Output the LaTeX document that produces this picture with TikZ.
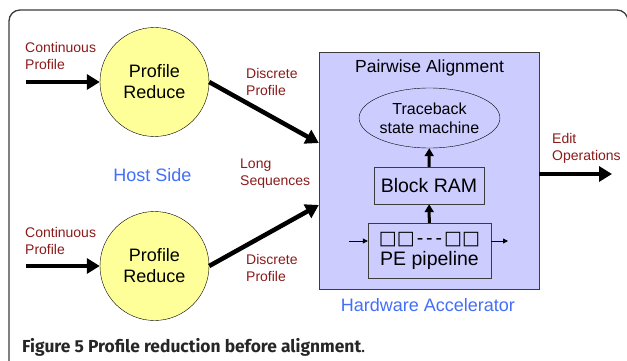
\documentclass[tikz,border=0pt]{standalone}
\usepackage{fontspec}
\setmainfont{Liberation Sans}
\newfontfamily\capfont{Fira Sans}
\newfontfamily\symfont{DejaVu Sans}
\usepackage{tikz}
\usetikzlibrary{arrows.meta}
\usetikzlibrary{shapes.geometric}
\usetikzlibrary{positioning}
\definecolor{flowred}{RGB}{139,26,26}
\definecolor{hostblue}{RGB}{66,110,250}
\definecolor{reduceyellow}{RGB}{255,255,153}
\definecolor{accelfill}{RGB}{204,204,255}
\definecolor{framegray}{RGB}{60,60,60}
\newcommand{\pesquares}{{\symfont\fontsize{19}{19}\selectfont □□}}
\newcommand{\pedashes}{\hspace{2pt}-\hspace{3pt}-\hspace{3pt}-\hspace{2pt}}
\tikzset{
	reducer/.style = {circle, draw = black, fill = reduceyellow, minimum size = 109pt, inner sep = 0pt, align = center, font = \fontsize{18}{21}\selectfont},
	accelbox/.style = {draw = framegray, fill = accelfill, minimum width = 220pt, minimum height = 237pt, inner sep = 0pt},
	fsm/.style = {ellipse, draw = black, minimum width = 135pt, minimum height = 60pt, inner sep = 0pt, align = center, font = \fontsize{16}{19}\selectfont},
	unitbox/.style = {draw = framegray, inner sep = 0pt, align = center, font = \fontsize{19.5}{21}\selectfont},
	flowlabel/.style = {text = flowred, inner sep = 0pt, align = left, anchor = west, font = \fontsize{14}{17}\selectfont},
	sidelabel/.style = {text = hostblue, inner sep = 0pt, font = \fontsize{18}{21}\selectfont},
	bigarrow/.style = {line width = 4.5pt, -{Triangle[length = 13pt, width = 15pt]}},
	midarrow/.style = {line width = 3pt, -{Triangle[length = 8pt, width = 9pt]}},
	thinarrow/.style = {line width = 0.8pt, -{Triangle[length = 5pt, width = 5pt]}}
}

\begin{document}
\begin{tikzpicture}[x = 1pt, y = -1pt]
				
					\useasboundingbox (0,0) rectangle (627,361);
					
					% outer frame
					\draw[framegray, line width = 1.3pt, rounded corners = 11pt] (9,370) -- (9,10) -- (628,10) -- (628,370);
					
					% host side
					\node[reducer] (topreduce) at (154.5,82) {Profile\\Reduce};
					\node[reducer] (botreduce) at (154.5,266) {Profile\\Reduce};
					\node[sidelabel] (hostside) at (152.5,175) {Host Side};
					
					\coordinate (topin) at (26,82);
					\coordinate (botin) at (26,266);
					\draw[bigarrow] (topin) -- (topreduce.west);
					\draw[bigarrow] (botin) -- (botreduce.west);
					
					\node[flowlabel] (topcont) at (25,56) {Continuous\\Profile};
					\node[flowlabel] (botcont) at (25,240.5) {Continuous\\Profile};
					\node[flowlabel] (topdisc) at (246,81.5) {Discrete\\Profile};
					\node[flowlabel] (botdisc) at (246,267.5) {Discrete\\Profile};
					\node[flowlabel] (longseq) at (240,173.5) {Long\\Sequences};
					
					% hardware accelerator
					\node[accelbox] (accel) at (429,170.5) {};
					\node[inner sep = 0pt, font = \fontsize{17.5}{21}\selectfont] (pwtitle) at (429.5,68) {Pairwise Alignment};
					\node[fsm] (traceback) at (429.5,118) {Traceback\\state machine};
					\node[unitbox, minimum width = 110pt, minimum height = 37pt] (bram) at (429,185.5) {Block RAM};
					\node[unitbox, minimum width = 123pt, minimum height = 55pt] (pipe) at (429.5,250.5) {\pesquares\pedashes\pesquares\\PE pipeline};
					\node[sidelabel] (hwaccel) at (428,305) {Hardware Accelerator};
					
					\draw[midarrow] (pipe) -- (bram);
					\draw[midarrow] (bram) -- (traceback);
					
					\coordinate (pipein) at (349,241);
					\coordinate (pipeout) at (508,241);
					\draw[thinarrow] (pipein) -- (pipe.west |- pipein);
					\draw[thinarrow] (pipe.east |- pipeout) -- (pipeout);
					
					\draw[bigarrow] (topreduce.east) -- ([yshift = 27.5pt]accel.west);
					\draw[bigarrow] (botreduce.east) -- ([yshift = -34.5pt]accel.west);
					
					\coordinate (editout) at (612,174);
					\draw[bigarrow] (accel.east |- editout) -- (editout);
					\node[flowlabel] (editops) at (552,148.5) {Edit\\Operations};
					
					% caption
					\node[anchor = base west, inner sep = 0pt, text = black!85, font = \capfont\fontsize{17.4}{20}\selectfont] (caption) at (22,352) {\textbf{Figure 5 Profile reduction before alignment}.};
										
				\end{tikzpicture}
\end{document}
